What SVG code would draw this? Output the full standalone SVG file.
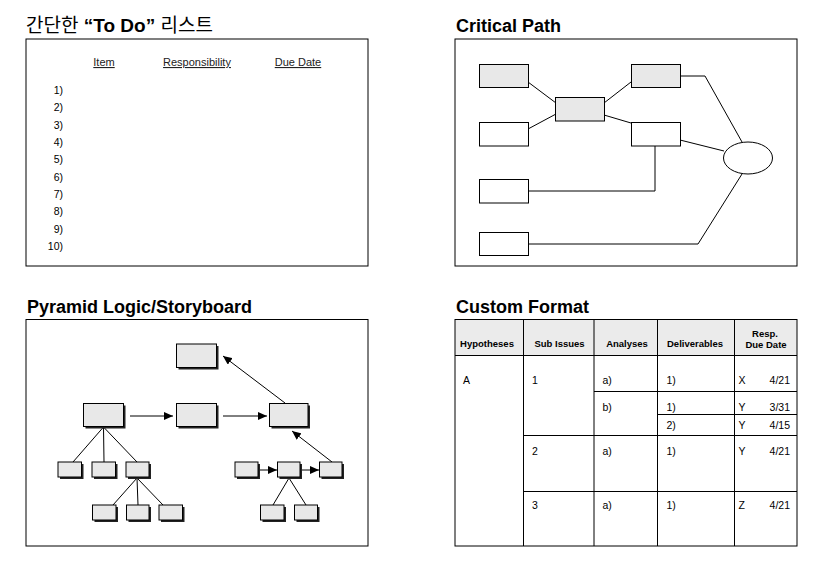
<svg xmlns="http://www.w3.org/2000/svg" width="828" height="565" viewBox="0 0 828 565">
<style>
.t{font-family:"Liberation Sans","Noto Sans CJK KR",sans-serif;fill:#000}
.title{font-size:18px;font-weight:bold}
.panel{fill:#fff;stroke:#000;stroke-width:1}
.gbox{fill:#e8e8e8;stroke:#000;stroke-width:1}
.wbox{fill:#fff;stroke:#000;stroke-width:1}
.ln{fill:none;stroke:#000;stroke-width:1}
.sh{fill:#222}
.hd{font-size:11px;text-decoration:underline;fill:#222}
.num{font-size:10.5px;text-anchor:end}
.th{font-size:9.5px;font-weight:bold;text-anchor:middle}
.td{font-size:10.5px}
</style>
<defs>
<marker id="ah" markerUnits="userSpaceOnUse" markerWidth="9" markerHeight="8" refX="9" refY="4" orient="auto">
<path d="M0,0 L9,4 L0,8 z" fill="#000"/>
</marker>
</defs>
<rect width="828" height="565" fill="#fff"/>

<!-- To Do panel -->
<g id="todo">
<text class="t" x="26" y="32" style="font-size:19px">간단한 <tspan font-weight="bold">“To Do”</tspan> 리스트</text>
<rect class="panel" x="26" y="39" width="342" height="227"/>
<text class="t hd" x="104" y="66" text-anchor="middle">Item</text>
<text class="t hd" x="197" y="66" text-anchor="middle">Responsibility</text>
<text class="t hd" x="298" y="66" text-anchor="middle">Due Date</text>
<text class="t num" x="63" y="94">1)</text>
<text class="t num" x="63" y="111.3">2)</text>
<text class="t num" x="63" y="128.7">3)</text>
<text class="t num" x="63" y="146">4)</text>
<text class="t num" x="63" y="163.3">5)</text>
<text class="t num" x="63" y="180.7">6)</text>
<text class="t num" x="63" y="198">7)</text>
<text class="t num" x="63" y="215.3">8)</text>
<text class="t num" x="63" y="232.7">9)</text>
<text class="t num" x="63" y="250">10)</text>
</g>

<!-- Critical Path panel -->
<g id="critical-path">
<text class="t title" x="456" y="32">Critical Path</text>
<rect class="panel" x="455" y="39" width="342" height="227"/>
<g id="cp-connectors">
<path class="ln" d="M528,82 L556,103"/>
<path class="ln" d="M528,129 L556,114"/>
<path class="ln" d="M604,103 L631,82"/>
<path class="ln" d="M604,115 L631,123"/>
<path class="ln" d="M680,76 L705,76 L742,142"/>
<path class="ln" d="M680,140 L724,151"/>
<path class="ln" d="M655,146 L655,191 L528,191"/>
<path class="ln" d="M528,244 L698,244 L742,174"/>
</g>
<g id="cp-a"><rect class="gbox" x="479.5" y="64.5" width="49" height="23"/></g>
<g id="cp-b"><rect class="wbox" x="479.5" y="122.5" width="49" height="23.5"/></g>
<g id="cp-c"><rect class="wbox" x="479.5" y="179.5" width="49" height="23.5"/></g>
<g id="cp-d"><rect class="wbox" x="479.5" y="232.5" width="49" height="23"/></g>
<g id="cp-mid"><rect class="gbox" x="555.5" y="97.5" width="49" height="23.5"/></g>
<g id="cp-e"><rect class="gbox" x="631.5" y="64.5" width="49" height="23"/></g>
<g id="cp-f"><rect class="wbox" x="631.5" y="122.5" width="49" height="23.5"/></g>
<g id="cp-end"><ellipse class="wbox" cx="748" cy="158" rx="24.5" ry="16"/></g>
</g>

<!-- Pyramid panel -->
<g id="pyramid">
<text class="t title" x="27" y="312.5">Pyramid Logic/Storyboard</text>
<rect class="panel" x="26" y="319.5" width="342" height="226.5"/>
<g id="py-connectors">
<path class="ln" d="M103.5,427 L73,462 M103.5,427 L104,462 M103.5,427 L137,462"/>
<path class="ln" d="M137,478 L113,505 M137,478 L138,505 M137,478 L163,505"/>
<path class="ln" d="M289,478 L273,505 M289,478 L306,505"/>
<line class="ln" x1="130" y1="416" x2="173" y2="416" marker-end="url(#ah)"/>
<line class="ln" x1="223" y1="416" x2="267" y2="416" marker-end="url(#ah)"/>
<line class="ln" x1="285" y1="403" x2="223" y2="356" marker-end="url(#ah)"/>
<line class="ln" x1="332" y1="462" x2="292" y2="431" marker-end="url(#ah)"/>
<line class="ln" x1="260" y1="470" x2="277" y2="470" marker-end="url(#ah)"/>
<line class="ln" x1="302" y1="470" x2="319" y2="470" marker-end="url(#ah)"/>
</g>
<g id="py-top"><rect class="sh" x="178.5" y="346" width="40" height="23.5"/><rect class="gbox" x="176.5" y="344" width="40" height="23.5"/></g>
<g id="py-l"><rect class="sh" x="85.5" y="405.5" width="40" height="23"/><rect class="gbox" x="83.5" y="403.5" width="40" height="23"/></g>
<g id="py-m"><rect class="sh" x="178.5" y="405.5" width="40" height="23"/><rect class="gbox" x="176.5" y="403.5" width="40" height="23"/></g>
<g id="py-r"><rect class="sh" x="271.5" y="405.5" width="38.5" height="23"/><rect class="gbox" x="269.5" y="403.5" width="38.5" height="23"/></g>
<g id="py-s1"><rect class="sh" x="60" y="464" width="23.5" height="15"/><rect class="gbox" x="58" y="462" width="23.5" height="15"/></g>
<g id="py-s2"><rect class="sh" x="94" y="464" width="23.5" height="15"/><rect class="gbox" x="92" y="462" width="23.5" height="15"/></g>
<g id="py-s3"><rect class="sh" x="128" y="464" width="23" height="15"/><rect class="gbox" x="126" y="462" width="23" height="15"/></g>
<g id="py-s4"><rect class="sh" x="237" y="464" width="23" height="15"/><rect class="gbox" x="235" y="462" width="23" height="15"/></g>
<g id="py-s5"><rect class="sh" x="279.5" y="464" width="22.5" height="15"/><rect class="gbox" x="277.5" y="462" width="22.5" height="15"/></g>
<g id="py-s6"><rect class="sh" x="321.5" y="464" width="22.5" height="15"/><rect class="gbox" x="319.5" y="462" width="22.5" height="15"/></g>
<g id="py-b1"><rect class="sh" x="94.5" y="507" width="23.5" height="15"/><rect class="gbox" x="92.5" y="505" width="23.5" height="15"/></g>
<g id="py-b2"><rect class="sh" x="128.5" y="507" width="22.5" height="15"/><rect class="gbox" x="126.5" y="505" width="22.5" height="15"/></g>
<g id="py-b3"><rect class="sh" x="161" y="507" width="23.5" height="15"/><rect class="gbox" x="159" y="505" width="23.5" height="15"/></g>
<g id="py-b4"><rect class="sh" x="262.5" y="507" width="23.5" height="15"/><rect class="gbox" x="260.5" y="505" width="23.5" height="15"/></g>
<g id="py-b5"><rect class="sh" x="296.5" y="507" width="23" height="15"/><rect class="gbox" x="294.5" y="505" width="23" height="15"/></g>
</g>

<!-- Custom Format panel -->
<g id="custom-format">
<text class="t title" x="456" y="312.5">Custom Format</text>
<rect x="455" y="319.5" width="342" height="36" fill="#ebebeb"/>
<rect class="ln" x="455" y="319.5" width="342" height="226.5"/>
<path class="ln" d="M455,355.5 H797 M594,391.5 H797 M657,414.5 H797 M523.5,435.5 H797 M523.5,491.5 H797 M523.5,319.5 V546 M594,319.5 V546 M657.5,319.5 V546 M734.5,319.5 V546"/>
<text class="t th" x="487" y="347">Hypotheses</text>
<text class="t th" x="559.5" y="347">Sub Issues</text>
<text class="t th" x="627" y="347">Analyses</text>
<text class="t th" x="695" y="347">Deliverables</text>
<text class="t th" x="765" y="337">Resp.</text>
<text class="t th" x="766" y="348">Due Date</text>
<text class="t td" x="463" y="384">A</text>
<text class="t td" x="532" y="384">1</text>
<text class="t td" x="602.5" y="384">a)</text>
<text class="t td" x="666.5" y="384">1)</text>
<text class="t td" x="738.5" y="384">X</text>
<text class="t td" x="790" y="384" text-anchor="end">4/21</text>
<text class="t td" x="602.5" y="411">b)</text>
<text class="t td" x="666.5" y="411">1)</text>
<text class="t td" x="738.5" y="411">Y</text>
<text class="t td" x="790" y="411" text-anchor="end">3/31</text>
<text class="t td" x="666.5" y="428.5">2)</text>
<text class="t td" x="738.5" y="428.5">Y</text>
<text class="t td" x="790" y="428.5" text-anchor="end">4/15</text>
<text class="t td" x="532" y="455">2</text>
<text class="t td" x="602.5" y="455">a)</text>
<text class="t td" x="666.5" y="455">1)</text>
<text class="t td" x="738.5" y="455">Y</text>
<text class="t td" x="790" y="455" text-anchor="end">4/21</text>
<text class="t td" x="532" y="509">3</text>
<text class="t td" x="602.5" y="509">a)</text>
<text class="t td" x="666.5" y="509">1)</text>
<text class="t td" x="738.5" y="509">Z</text>
<text class="t td" x="790" y="509" text-anchor="end">4/21</text>
</g>
</svg>
